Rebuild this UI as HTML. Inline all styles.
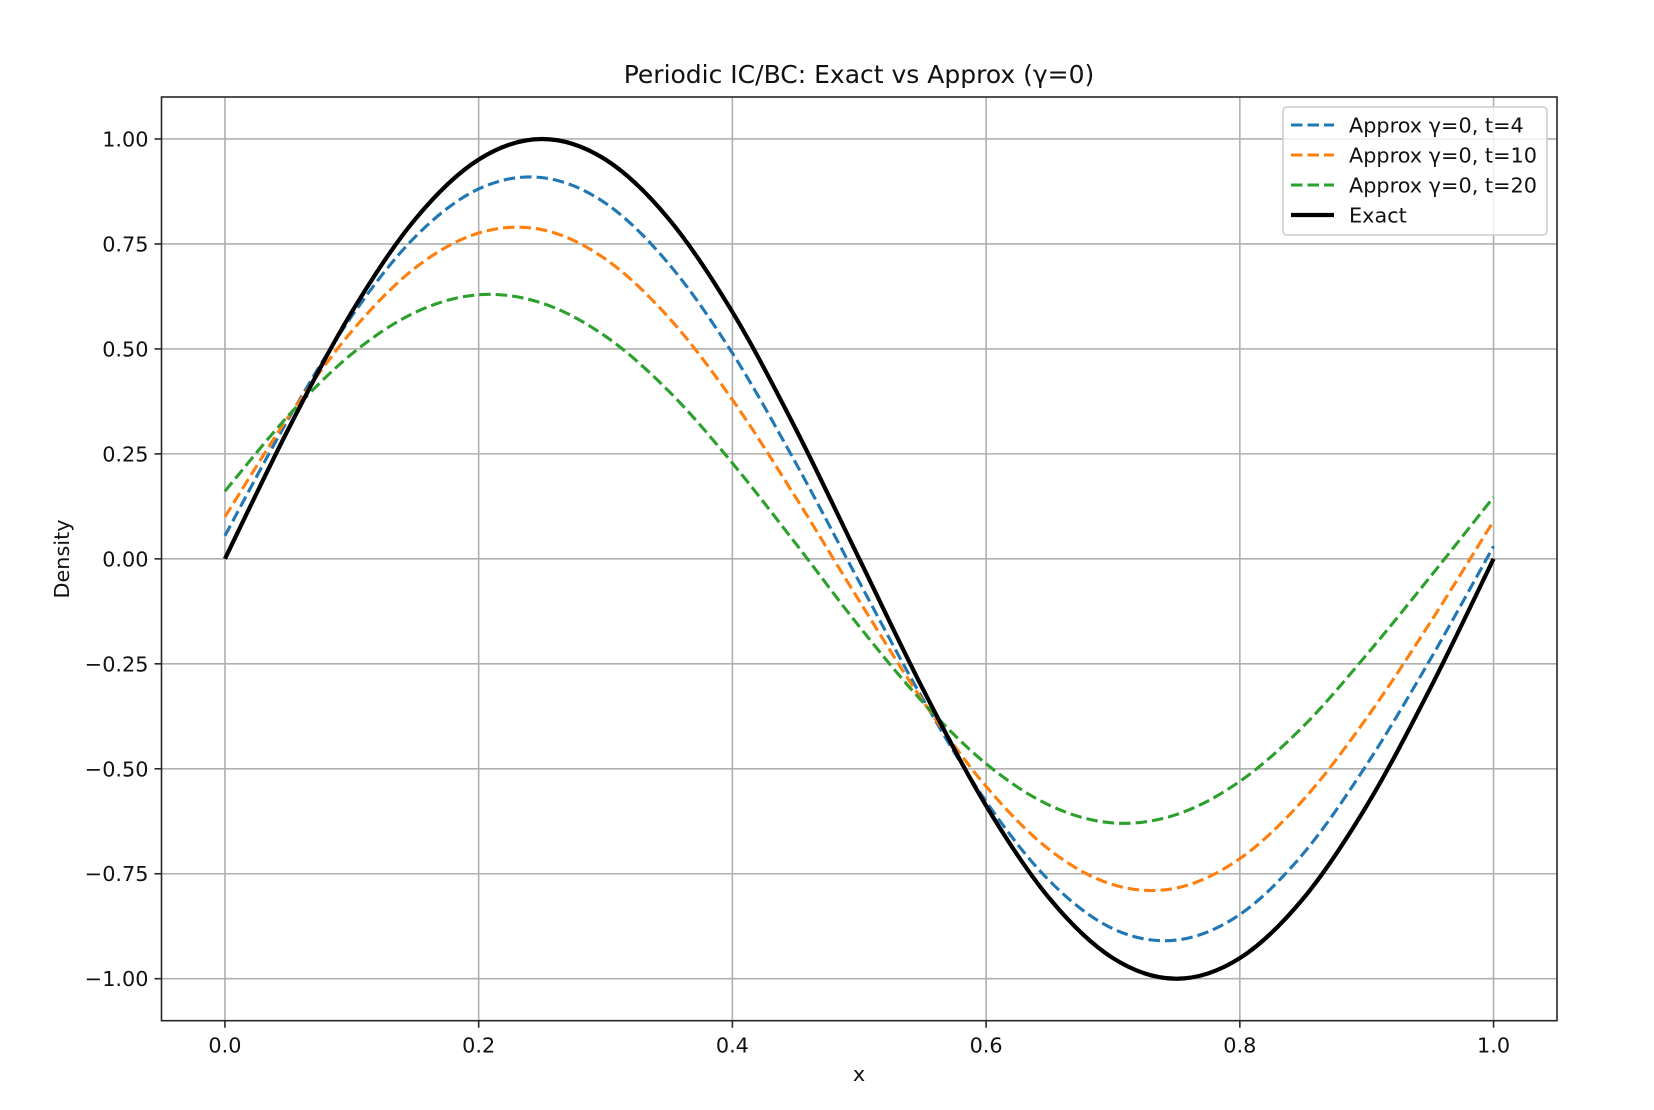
<!DOCTYPE html>
<html><head><meta charset="utf-8"><style>
html,body{margin:0;padding:0;background:#fff}
svg{display:block;font-family:"DejaVu Sans","Liberation Sans",sans-serif}
</style></head><body>
<svg id="chart" width="1654" height="1110" viewBox="0 0 1654 1110">
<rect width="1654" height="1110" fill="#fff"/>
<g id="grid"></g>
<g id="series"></g>
<rect x="161.5" y="97" width="1395.5" height="923.7" fill="none" stroke="#262626" stroke-width="1.6"/>
<g id="ticks"></g>
<text x="859" y="83" font-size="25" text-anchor="middle" fill="#111">Periodic IC/BC: Exact vs Approx (γ=0)</text>
<text x="859" y="1081" font-size="20.8" text-anchor="middle" fill="#111">x</text>
<text x="0" y="0" font-size="20.8" text-anchor="middle" fill="#111" transform="translate(69,559) rotate(-90)">Density</text>
<g id="legend"></g>
</svg>
<script>
const xs = [0,0.05,0.1,0.15,0.2,0.25,0.3,0.35,0.4,0.45,0.5,0.55,0.6,0.65,0.7,0.75,0.8,0.85,0.9,0.95,1];
const approxT4 = [0.055,0.333,0.578,0.767,0.881,0.908,0.847,0.702,0.490,0.228,-0.055,-0.333,-0.578,-0.767,-0.881,-0.908,-0.847,-0.702,-0.490,-0.24,0.03];
const approxT10 = [0.100,0.338,0.542,0.693,0.776,0.784,0.714,0.574,0.379,0.146,-0.100,-0.338,-0.542,-0.693,-0.776,-0.784,-0.714,-0.574,-0.379,-0.152,0.09];
const approxT20 = [0.161,0.341,0.488,0.587,0.629,0.609,0.530,0.399,0.228,0.036,-0.161,-0.341,-0.488,-0.587,-0.629,-0.609,-0.530,-0.399,-0.228,-0.043,0.147];
const exact = [0,0.309,0.588,0.809,0.951,1,0.951,0.809,0.588,0.309,0,-0.309,-0.588,-0.809,-0.951,-1,-0.951,-0.809,-0.588,-0.309,0];
const xTicks = [0,0.2,0.4,0.6,0.8,1.0];
const xTickLabels = ["0.0","0.2","0.4","0.6","0.8","1.0"];
const yTicks = [1,0.75,0.5,0.25,0,-0.25,-0.5,-0.75,-1];
const yTickLabels = ["1.00","0.75","0.50","0.25","0.00","\u22120.25","\u22120.50","\u22120.75","\u22121.00"];
const seriesNames = ["Approx γ=0, t=4","Approx γ=0, t=10","Approx γ=0, t=20","Exact"];

const NS="http://www.w3.org/2000/svg";
const X0=161.5,X1=1557,Y0=97,Y1=1020.7,XMIN=-0.05,XMAX=1.05,YMIN=-1.1,YMAX=1.1;
function sx(v){return X0+(v-XMIN)/(XMAX-XMIN)*(X1-X0);}
function sy(v){return Y1-(v-YMIN)/(YMAX-YMIN)*(Y1-Y0);}
function mk(tag,attrs,parent){const e=document.createElementNS(NS,tag);for(const k in attrs)e.setAttribute(k,attrs[k]);parent.appendChild(e);return e;}
const grid=document.getElementById('grid'),ticks=document.getElementById('ticks'),ser=document.getElementById('series'),leg=document.getElementById('legend');
xTicks.forEach((v,i)=>{
  const g=mk('line',{x1:sx(v),x2:sx(v),y1:Y0,y2:Y1,stroke:'#b0b0b0','stroke-width':1.6},grid);
  
  
  const t=mk('line',{x1:sx(v),x2:sx(v),y1:Y1,y2:Y1+7,stroke:'#262626','stroke-width':1.6},ticks);
  
  
  const l=mk('text',{x:sx(v),y:Y1+32,'font-size':20.8,'text-anchor':'middle',fill:'#111'},ticks);
  l.textContent=xTickLabels[i];
  
  
});
yTicks.forEach((v,i)=>{
  const g=mk('line',{x1:X0,x2:X1,y1:sy(v),y2:sy(v),stroke:'#b0b0b0','stroke-width':1.6},grid);
  
  
  const t=mk('line',{x1:X0-7,x2:X0,y1:sy(v),y2:sy(v),stroke:'#262626','stroke-width':1.6},ticks);
  
  
  const l=mk('text',{x:X0-13,y:sy(v)+7.5,'font-size':20.8,'text-anchor':'end',fill:'#111'},ticks);
  l.textContent=yTickLabels[i];
  
  
});
function smooth(ys){
  const p=xs.map((x,i)=>[sx(x),sy(ys[i])]);
  let d=`M${p[0][0]},${p[0][1]}`;
  for(let i=0;i<p.length-1;i++){
    const a=p[i-1]||p[i],b=p[i],c=p[i+1],e=p[i+2]||p[i+1];
    d+=` C${b[0]+(c[0]-a[0])/6},${b[1]+(c[1]-a[1])/6} ${c[0]-(e[0]-b[0])/6},${c[1]-(e[1]-b[1])/6} ${c[0]},${c[1]}`;
  }
  return d;
}
const defs=[[approxT4,'#1f77b4',3.1,'11.5 5','series-approx-t4'],[approxT10,'#ff7f0e',3.1,'11.5 5','series-approx-t10'],[approxT20,'#2ca02c',3.1,'11.5 5','series-approx-t20'],[exact,'#000000',4.2,'','series-exact']];
defs.forEach(([ys,c,w,da,name])=>{
  const p=mk('path',{d:smooth(ys),fill:'none',stroke:c,'stroke-width':w,'stroke-dasharray':da},ser);
  
  
});
const box=mk('rect',{x:1283,y:107,width:264,height:128,rx:4,fill:'#fff','fill-opacity':0.8,stroke:'#cccccc','stroke-width':1.6},leg);


const ly=[125,155,185,215];
defs.forEach(([ys,c,w,da,name],i)=>{
  const h=mk('line',{x1:1291,x2:1334,y1:ly[i],y2:ly[i],stroke:c,'stroke-width':w,'stroke-dasharray':da},leg);
  
  
  const t=mk('text',{x:1349,y:ly[i]+7.5,'font-size':20.8,fill:'#111'},leg);
  t.textContent=seriesNames[i];
  
  
});
</script>
</body></html>
